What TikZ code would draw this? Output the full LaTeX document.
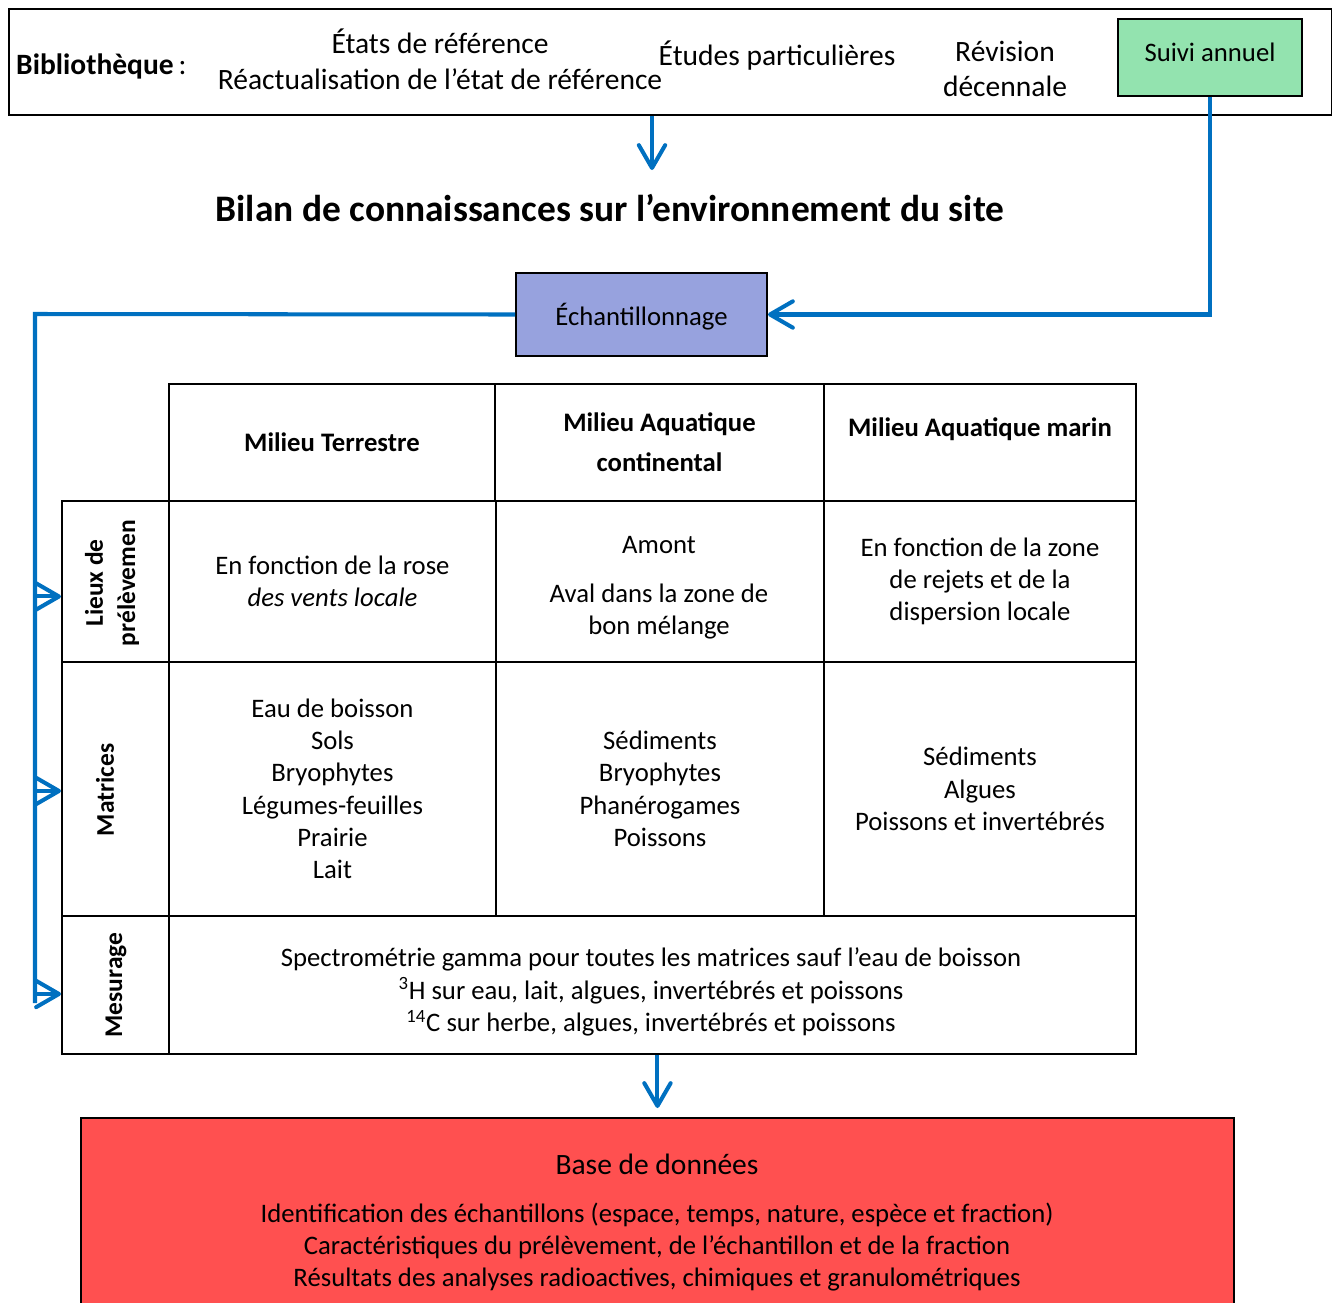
\documentclass[tikz,border=0pt]{standalone}
\usepackage{fontspec}
\setmainfont{Carlito}
\usetikzlibrary{arrows.meta, positioning}
\definecolor{flowblue}{HTML}{0070C0}
\definecolor{mint}{HTML}{93E3AF}
\definecolor{lavender}{HTML}{97A2DE}
\definecolor{basered}{HTML}{FF5050}
\newlength\pxu
\setlength\pxu{0.02cm}
\newcommand\bodyfont{\fontsize{15.2}{18.4}\selectfont}
\newcommand\labelfont{\fontsize{14.5}{18.4}\selectfont\bfseries}
\newcommand\topfont{\fontsize{16.8}{20.4}\selectfont}
\newcommand\titlefont{\fontsize{21.3}{25}\selectfont\bfseries}

\begin{document}
\begin{tikzpicture}[
      x=0.02cm, y=-0.02cm,
      font=\bodyfont,
      box/.style={draw, line width=1.1pt, inner sep=0pt, align=center},
      cell/.style={box, anchor=north west},
      flow/.style={draw=flowblue, line width=2.3pt},
      >={Straight Barb[length=13pt, width=15pt, round]}
    ]
    \useasboundingbox (0,0) rectangle (1332,1302);

    % Bibliotheque
    \node[cell, minimum width=1323\pxu, minimum height=106\pxu] (biblio) at (8,8) {};
    \node[anchor=west, font=\topfont] (bibl) at (10,66) {\textbf{Bibliothèque}\,:};
    \node[align=center, font=\topfont] (etats) at (440,59) {États de référence\\Réactualisation de l’état de référence};
    \node[font=\topfont] (etudes) at (777,56) {Études particulières};
    \node[align=center, font=\topfont] (revision) at (1005,69) {Révision\\décennale};
    \node[box, fill=mint, minimum width=184\pxu, minimum height=77\pxu, text depth=0.22cm] (suivi) at (1210,57.5) {Suivi annuel};

    % Titre et echantillonnage
    \node[font=\titlefont] (titre) at (610,208) {Bilan de connaissances sur l’environnement du site};
    \node[box, fill=lavender, minimum width=251\pxu, minimum height=83\pxu, text height=0.55cm] (ech) at (641.5,314.5) {Échantillonnage};

    % Tableau
    \node[cell, minimum width=326\pxu, minimum height=117\pxu] (hter) at (168,383) {\bfseries Milieu Terrestre};
    \node[cell, minimum width=329\pxu, minimum height=117\pxu] (hcon) at (494,383) {\bfseries Milieu Aquatique\\[0.15cm]\bfseries continental};
    \node[cell, minimum width=312\pxu, minimum height=117\pxu, text depth=0.6cm] (hmar) at (823,383) {\bfseries Milieu Aquatique marin};

    \node[cell, minimum width=107\pxu, minimum height=161\pxu] (lieux) at (61,500) {};
    \node[cell, minimum width=327\pxu, minimum height=161\pxu] (lter) at (168,500) {En fonction de la rose\\\textit{des vents locale}};
    \node[cell, minimum width=328\pxu, minimum height=161\pxu] (lcon) at (495,500) {};
    \node[align=center] (lcontxt) at (659,587.5) {Amont\\[0.33cm]Aval dans la zone de\\bon mélange};
    \node[cell, minimum width=312\pxu, minimum height=161\pxu] (lmar) at (823,500) {En fonction de la zone\\de rejets et de la\\dispersion locale};

    \node[cell, minimum width=107\pxu, minimum height=254\pxu] (matrices) at (61,661) {};
    \node[cell, minimum width=327\pxu, minimum height=254\pxu] (mter) at (168,661) {Eau de boisson\\Sols\\Bryophytes\\Légumes-feuilles\\Prairie\\Lait};
    \node[cell, minimum width=328\pxu, minimum height=254\pxu] (mcon) at (495,661) {Sédiments\\Bryophytes\\Phanérogames\\Poissons};
    \node[cell, minimum width=312\pxu, minimum height=254\pxu] (mmar) at (823,661) {Sédiments\\Algues\\Poissons et invertébrés};

    \node[cell, minimum width=107\pxu, minimum height=138\pxu] (mesurage) at (61,915) {};
    \node[cell, minimum width=967\pxu, minimum height=138\pxu] (mesure) at (168,915) {};
    \node[align=center] (mesuretxt) at (651,992) {Spectrométrie gamma pour toutes les matrices sauf l’eau de boisson\\\textsuperscript{3}H sur eau, lait, algues, invertébrés et poissons\\\textsuperscript{14}C sur herbe, algues, invertébrés et poissons};

    \node[rotate=90, align=center, font=\labelfont] (lieuxtxt) at (112,583) {Lieux de\\prélèvemen};
    \node[rotate=90, font=\labelfont] (matricestxt) at (105,790) {Matrices};
    \node[rotate=90, font=\labelfont] (mesuragetxt) at (116,985) {Mesurage};

    % Base de donnees
    \node[cell, fill=basered, minimum width=1153\pxu, minimum height=200\pxu] (base) at (80,1117) {};
    \node[font=\topfont] (basetitre) at (657,1164) {Base de données};
    \node[align=center] (basetxt) at (657,1247) {Identification des échantillons (espace, temps, nature, espèce et fraction)\\Caractéristiques du prélèvement, de l’échantillon et de la fraction\\Résultats des analyses radioactives, chimiques et granulométriques};

    % Fleches
    \coordinate (c1) at (652,170);
    \coordinate (corner) at (35,314);
    \coordinate (foot) at (35,1003);
    \draw[flow, ->] (biblio.south -| c1) -- (c1);
    \draw[flow, ->] (suivi.south) |- (ech.east);
    \draw[flow] (ech.west) -- (corner) -- (foot);
    \draw[flow, ->] ([yshift=-0.3cm]lieux.west -| corner) -- ([yshift=-0.3cm]lieux.west);
    \draw[flow, ->] ([yshift=-0.04cm]matrices.west -| corner) -- ([yshift=-0.04cm]matrices.west);
    \draw[flow, ->] ([yshift=-0.18cm]mesurage.west -| corner) -- ([yshift=-0.18cm]mesurage.west);
    \draw[flow, ->, shorten >=0.18cm] ([xshift=0.1cm]mesure.south) -- ([xshift=0.1cm]mesure.south |- base.north);

  \end{tikzpicture}
\end{document}
